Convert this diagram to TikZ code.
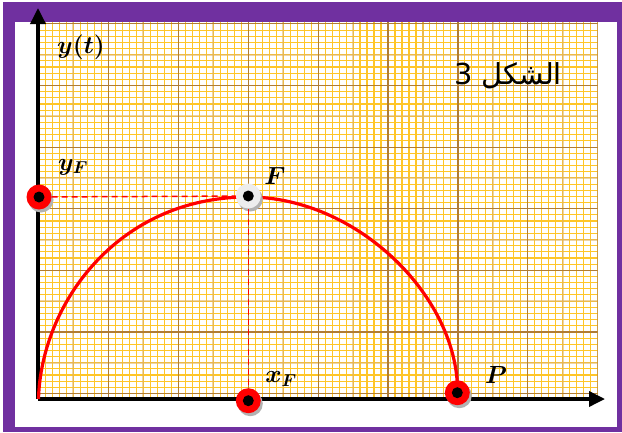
\documentclass[tikz,border=0pt]{standalone}
\usepackage{fontspec}
\usepackage{bm}
\usetikzlibrary{arrows.meta,shadows}
\newfontfamily\arabicfont[Script=Arabic]{DejaVu Sans}
\TeXXeTstate=1
\definecolor{framepurple}{RGB}{112,48,160}
\definecolor{gridminor}{RGB}{255,198,40}
\definecolor{gridhalf}{RGB}{224,178,100}
\definecolor{gridmajor}{RGB}{176,124,52}
\tikzset{
  redpt/.style={circle,fill=red,minimum size=25bp,inner sep=0pt,
    drop shadow={shadow xshift=2bp,shadow yshift=-3bp,fill=black!30,opacity=1},
    path picture={\fill[black] (path picture bounding box.center) circle (5.5bp);}},
  whitept/.style={redpt,fill=black!7},
  guide/.style={red,line width=1.5bp,dash pattern=on 6bp off 4bp},
  axis/.style={line width=3.5bp,-{Triangle[length=16bp,width=15bp]}},
  traj/.style={red,line width=3.2bp},
  lbl/.style={font=\fontsize{27}{30}\selectfont,inner sep=0pt},
}
\begin{document}
\begin{tikzpicture}[x=1bp,y=1bp]
    \useasboundingbox (0,0) rectangle (622,432);
    \fill[framepurple] (3,0) rectangle (622,430);
    \fill[white] (15,5) rectangle (617,410);
    \begin{scope}
        \clip (38.5,35) rectangle (597.7,410);
        \foreach \i in {0,...,80}
            \draw[gridminor,line width=1.1bp] ({38.5+6.99*\i},35) -- ++(0,375);
        \foreach \j in {-1,...,61}
            \draw[gridminor,line width=1.1bp] (38.5,{38.5+6.16*\j}) -- ++(560,0);
        \foreach \i in {0,...,7}
            \draw[gridhalf,line width=2bp,opacity=.55] ({38.5+34.95*(2*\i+1)},35) -- ++(0,375);
        \foreach \j in {0,...,5}
            \draw[gridhalf,line width=2bp,opacity=.55] (38.5,{38.5+30.8*(2*\j+1)}) -- ++(560,0);
        \foreach \i in {0,...,8}
            \draw[gridmajor,line width=1.2bp] ({38.5+69.9*\i},35) -- ++(0,375);
        \foreach \j in {0,...,6}
            \draw[gridmajor,line width=1.2bp] (38.5,{38.5+61.6*\j}) -- ++(560,0);
    \end{scope}
    \coordinate (O) at (38,33);
    \coordinate (xend) at (605,33);
    \coordinate (yend) at (38,424);
    \draw[axis] (O) -- (xend);
    \draw[axis] (O) -- (yend);
    \draw[traj] (38.5,33) .. controls (41,128) and (118,235) .. (248,235)
        .. controls (358,235) and (459,134) .. (457.5,39);
    \node[redpt] (yF) at (39,235) {};
    \node[whitept] (F) at (248.3,236) {};
    \node[redpt] (xF) at (248.3,31.3) {};
    \node[redpt] (P) at (457.3,39.3) {};
    \draw[guide] (yF) -- (F);
    \draw[guide] (F) -- (xF);
    \node[lbl] (ylab) at (81,385) {$\bm{y(t)}$};
    \node[lbl] (yFlab) at (73,265) {$\bm{y_F}$};
    \node[lbl] (Flab) at (275,256) {$\bm{F}$};
    \node[lbl] (xFlab) at (281,53) {$\bm{x_F}$};
    \node[lbl] (Plab) at (496,57) {$\bm{P}$};
    \node[font=\fontsize{29}{32}\selectfont] (title) at (508,356) {\arabicfont\beginR الشكل 3\endR};
\end{tikzpicture}
\end{document}
